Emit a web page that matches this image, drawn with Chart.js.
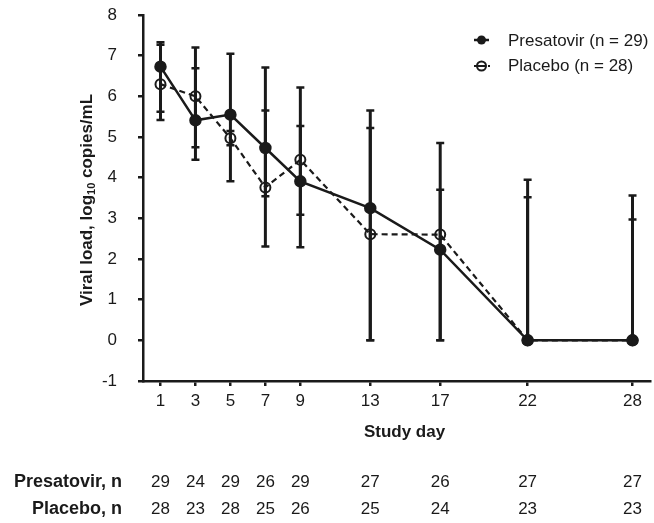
<!DOCTYPE html>
<html>
<head>
<meta charset="utf-8">
<script src="https://cdn.jsdelivr.net/npm/chart.js@4/dist/chart.umd.min.js"></script>
<style>
  html, body { margin: 0; padding: 0; background: #fff; }
  #wrap { width: 654px; height: 523px; }
</style>
</head>
<body>
<div id="wrap"><canvas id="chart" width="654" height="523"></canvas></div>
<script>
'use strict';

const days = [1, 3, 5, 7, 9, 13, 17, 22, 28];
const yTicks = [-1, 0, 1, 2, 3, 4, 5, 6, 7, 8];

const presatovirMean = [6.73, 5.41, 5.55, 4.73, 3.91, 3.25, 2.23, 0, 0];
const presatovirLow = [5.42, 4.44, 3.91, 2.31, 2.29, 0, 0, 0, 0];
const presatovirHigh = [7.33, 6.69, 7.05, 6.71, 6.22, 5.65, 4.85, 3.95, 3.56];

const placeboMean = [6.30, 6.00, 4.97, 3.76, 4.44, 2.61, 2.60, 0, 0];
const placeboLow = [5.62, 4.75, 4.80, 3.54, 3.09, 0, 0, 0, 0];
const placeboHigh = [7.27, 7.20, 5.15, 5.65, 5.27, 5.22, 3.70, 3.52, 2.97];

const presatovirN = [29, 24, 29, 26, 29, 27, 26, 27, 27];
const placeboN = [28, 23, 28, 25, 26, 25, 24, 23, 23];

const INK = '#1a1a1a';
const FONT = '"Liberation Sans", Arial, sans-serif';

const errorBars = {
  id: 'errorBars',
  beforeDatasetsDraw(chart) {
    const { ctx, scales: { x, y } } = chart;
    const groups = [[presatovirLow, presatovirHigh], [placeboLow, placeboHigh]];
    ctx.save();
    ctx.strokeStyle = INK;
    groups.forEach(([low, high]) => {
      days.forEach((d, i) => {
        const px = x.getPixelForValue(d);
        const y0 = y.getPixelForValue(low[i]);
        const y1 = y.getPixelForValue(high[i]);
        ctx.lineWidth = 3;
        ctx.beginPath();
        ctx.moveTo(px, y0);
        ctx.lineTo(px, y1);
        ctx.stroke();
        ctx.lineWidth = 2.5;
        ctx.beginPath();
        ctx.moveTo(px - 4, y0); ctx.lineTo(px + 4, y0);
        ctx.moveTo(px - 4, y1); ctx.lineTo(px + 4, y1);
        ctx.stroke();
      });
    });
    ctx.restore();
  },
};

const extras = {
  id: 'extras',
  afterDraw(chart) {
    const { ctx, scales: { x } } = chart;
    ctx.save();
    ctx.fillStyle = INK;
    ctx.strokeStyle = INK;

    // y-axis title with subscript
    ctx.save();
    ctx.translate(87, 200);
    ctx.rotate(-Math.PI / 2);
    ctx.textBaseline = 'middle';
    const partA = 'Viral load, log';
    const partB = '10';
    const partC = ' copies/mL';
    ctx.font = `bold 17px ${FONT}`;
    const wA = ctx.measureText(partA).width;
    const wC = ctx.measureText(partC).width;
    ctx.font = `bold 11px ${FONT}`;
    const wB = ctx.measureText(partB).width;
    let sx = -(wA + wB + wC) / 2;
    ctx.textAlign = 'left';
    ctx.font = `bold 17px ${FONT}`;
    ctx.fillText(partA, sx, 0);
    sx += wA;
    ctx.font = `bold 11px ${FONT}`;
    ctx.fillText(partB, sx, 5);
    sx += wB;
    ctx.font = `bold 17px ${FONT}`;
    ctx.fillText(partC, sx, 0);
    ctx.restore();

    // x-axis title
    ctx.font = `bold 17px ${FONT}`;
    ctx.textAlign = 'center';
    ctx.textBaseline = 'middle';
    ctx.fillText('Study day', (chart.chartArea.left + chart.chartArea.right) / 2 + 8, 432);

    // number at risk rows
    const rows = [['Presatovir, n', presatovirN, 482], ['Placebo, n', placeboN, 509]];
    rows.forEach(([label, vals, py]) => {
      ctx.font = `bold 18px ${FONT}`;
      ctx.textAlign = 'right';
      ctx.fillText(label, 122, py);
      ctx.font = `17px ${FONT}`;
      ctx.textAlign = 'center';
      vals.forEach((v, i) => ctx.fillText(String(v), x.getPixelForValue(days[i]), py));
    });

    // legend
    ctx.font = `17px ${FONT}`;
    ctx.textAlign = 'left';
    ctx.lineWidth = 2.5;
    ctx.beginPath();
    ctx.moveTo(474, 40); ctx.lineTo(489, 40);
    ctx.stroke();
    ctx.beginPath();
    ctx.arc(481.5, 40, 4.5, 0, Math.PI * 2);
    ctx.fill();
    ctx.fillText('Presatovir (n = 29)', 508, 41);

    ctx.lineWidth = 2;
    ctx.beginPath();
    ctx.moveTo(474, 66); ctx.lineTo(486, 66);
    ctx.moveTo(488, 66); ctx.lineTo(490, 66);
    ctx.stroke();
    ctx.beginPath();
    ctx.arc(481.5, 66, 4.5, 0, Math.PI * 2);
    ctx.stroke();
    ctx.fillText('Placebo (n = 28)', 508, 66);
    ctx.restore();
  },
};

new Chart(document.getElementById('chart'), {
  type: 'line',
  data: {
    datasets: [
      {
        label: 'Placebo (n = 28)',
        data: days.map((d, i) => ({ x: d, y: placeboMean[i] })),
        borderColor: INK,
        borderWidth: 2.2,
        borderDash: [6, 4],
        pointRadius: 5,
        pointBorderWidth: 2,
        pointBackgroundColor: 'rgba(0,0,0,0)',
        pointBorderColor: INK,
        tension: 0,
      },
      {
        label: 'Presatovir (n = 29)',
        data: days.map((d, i) => ({ x: d, y: presatovirMean[i] })),
        borderColor: INK,
        borderWidth: 2.5,
        pointRadius: 5,
        pointBackgroundColor: INK,
        pointBorderColor: INK,
        tension: 0,
      },
    ],
  },
  options: {
    responsive: false,
    animation: false,
    layout: { padding: { top: 15, right: 4, left: 0, bottom: 0 }, autoPadding: false },
    plugins: { legend: { display: false }, tooltip: { enabled: false } },
    scales: {
      x: {
        type: 'linear',
        min: 0,
        max: 29,
        afterBuildTicks: (scale) => { scale.ticks = days.map(v => ({ value: v })); },
        afterFit: (scale) => { scale.height = 142; scale.paddingLeft = 0; scale.paddingRight = 0; },
        ticks: { color: INK, font: { family: FONT, size: 17 }, padding: 5, maxRotation: 0, autoSkip: false },
        grid: { drawOnChartArea: false, drawTicks: true, tickLength: 5, lineWidth: 2.5, color: INK },
        border: { display: true, width: 2.5, color: INK },
      },
      y: {
        min: -1,
        max: 8,
        afterBuildTicks: (scale) => { scale.ticks = yTicks.map(v => ({ value: v })); },
        afterFit: (scale) => { scale.width = 143; scale.paddingTop = 0; scale.paddingBottom = 0; },
        ticks: { color: INK, font: { family: FONT, size: 17 }, padding: 21 },
        grid: { drawOnChartArea: false, drawTicks: true, tickLength: 5, lineWidth: 2.5, color: INK },
        border: { display: true, width: 2.5, color: INK },
      },
    },
  },
  plugins: [errorBars, extras],
});
</script>
</body>
</html>
